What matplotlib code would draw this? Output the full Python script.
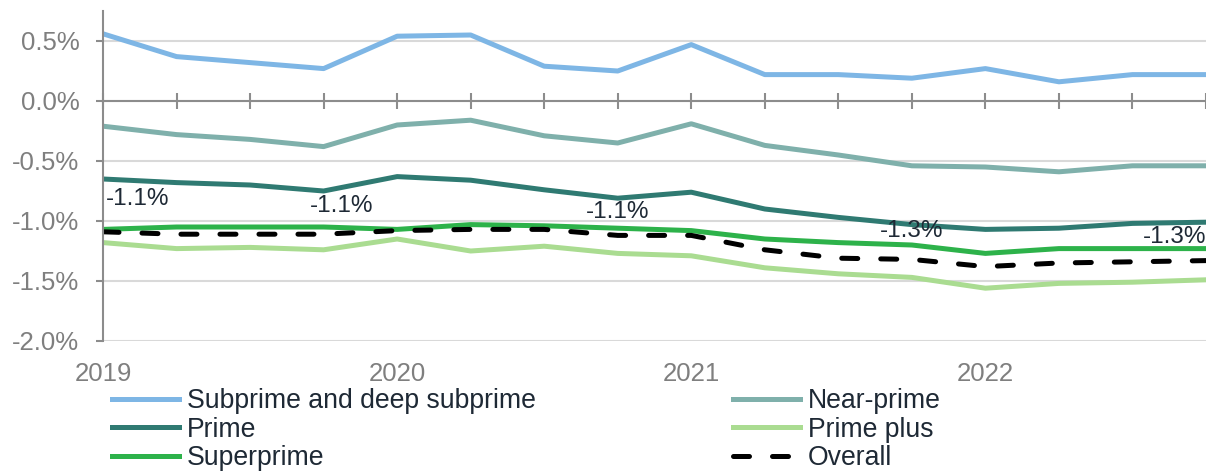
import matplotlib
matplotlib.use("Agg")
import matplotlib.pyplot as plt

plt.rcParams['font.family'] = ['Liberation Sans', 'DejaVu Sans']

# quarterly points, 2019 Q1 .. 2022 Q4
quarters = list(range(16))
year_labels = ["2019", "2020", "2021", "2022"]
year_pos = [0, 4, 8, 12]

subprime = [0.56, 0.37, 0.32, 0.27, 0.54, 0.55, 0.29, 0.25,
            0.47, 0.22, 0.22, 0.19, 0.27, 0.16, 0.22, 0.22]
near_prime = [-0.21, -0.28, -0.32, -0.38, -0.20, -0.16, -0.29, -0.35,
              -0.19, -0.37, -0.45, -0.54, -0.55, -0.59, -0.54, -0.54]
prime = [-0.65, -0.68, -0.70, -0.75, -0.63, -0.66, -0.74, -0.81,
         -0.76, -0.90, -0.97, -1.03, -1.07, -1.06, -1.02, -1.01]
prime_plus = [-1.18, -1.23, -1.22, -1.24, -1.15, -1.25, -1.21, -1.27,
              -1.29, -1.39, -1.44, -1.47, -1.56, -1.52, -1.51, -1.49]
superprime = [-1.07, -1.05, -1.05, -1.05, -1.07, -1.03, -1.04, -1.06,
              -1.08, -1.15, -1.18, -1.20, -1.27, -1.23, -1.23, -1.23]
overall = [-1.09, -1.11, -1.11, -1.11, -1.08, -1.07, -1.07, -1.12,
           -1.12, -1.24, -1.31, -1.32, -1.38, -1.35, -1.34, -1.33]

# labelled points on the overall line: index, text, offset in pixels
overall_labels = [(0, "-1.1%", 35, 33), (3, "-1.1%", 18, 28), (7, "-1.1%", 0, 23),
                  (11, "-1.3%", 0, 28), (15, "-1.3%", -31, 24)]

fig = plt.figure(figsize=(12.06, 4.72), dpi=100)
ax = fig.add_axes([103 / 1206, 1 - 341 / 472, 1 - 103 / 1206, (341 - 11) / 472])

lw = 3.6
ax.plot(quarters, subprime, color="#7EB6E5", lw=lw, label="Subprime and deep subprime")
ax.plot(quarters, near_prime, color="#7FB0AB", lw=lw, label="Near-prime")
ax.plot(quarters, prime, color="#2F7A72", lw=lw, label="Prime")
ax.plot(quarters, prime_plus, color="#AADC91", lw=lw, label="Prime plus")
ax.plot(quarters, superprime, color="#2DB24A", lw=lw, label="Superprime")
ax.plot(quarters, overall, color="black", lw=lw, dashes=(3.2, 4.6),
        dash_capstyle="round", label="Overall")

for i, txt, dx, dy in overall_labels:
    ax.annotate(txt, xy=(i, overall[i]), xytext=(dx, dy), textcoords="offset pixels",
                ha="center", va="center", fontsize=17.5, color="#1E2935")

ax.set_xlim(0, 15)
ax.set_ylim(-2.0, 0.75)
ax.set_yticks([0.5, 0.0, -0.5, -1.0, -1.5, -2.0])
ax.set_yticklabels([f"{v:.1f}%" for v in [0.5, 0.0, -0.5, -1.0, -1.5, -2.0]])
ax.grid(axis="y", color="#D9D9D9", lw=1.5)
ax.set_axisbelow(True)

ax.spines["top"].set_visible(False)
ax.spines["right"].set_visible(False)
ax.spines["left"].set_color("#8C8C8C")
ax.spines["left"].set_linewidth(1.5)
ax.spines["bottom"].set_position(("data", 0))
ax.spines["bottom"].set_color("#8C8C8C")
ax.spines["bottom"].set_linewidth(1.5)

ax.set_xticks(quarters)
ax.tick_params(axis="x", direction="inout", length=11, width=1.5, color="#8C8C8C",
               labelbottom=False)
ax.tick_params(axis="y", direction="out", length=5, width=1.5, color="#8C8C8C",
               labelsize=18.5, labelcolor="#7F7F7F", pad=12)

for pos, yl in zip(year_pos, year_labels):
    ax.annotate(yl, xy=(pos, 0), xycoords=("data", "axes fraction"), xytext=(0, -33),
                textcoords="offset pixels", ha="center", va="center",
                fontsize=18.5, color="#7F7F7F")

# legend in row order: 2 columns, filled column first
handles, labels = ax.get_legend_handles_labels()
order = [0, 2, 4, 1, 3, 5]
fig.legend([handles[k] for k in order], [labels[k] for k in order],
           loc="upper left", bbox_to_anchor=(112 / 1206, 1 - 388 / 472), ncol=2,
           frameon=False, fontsize=19.2, handlelength=2.5, handletextpad=0.3,
           columnspacing=7.4, labelspacing=0.1, borderpad=0, borderaxespad=0,
           labelcolor="#1E2935")

fig.savefig("out.png", dpi=100)
